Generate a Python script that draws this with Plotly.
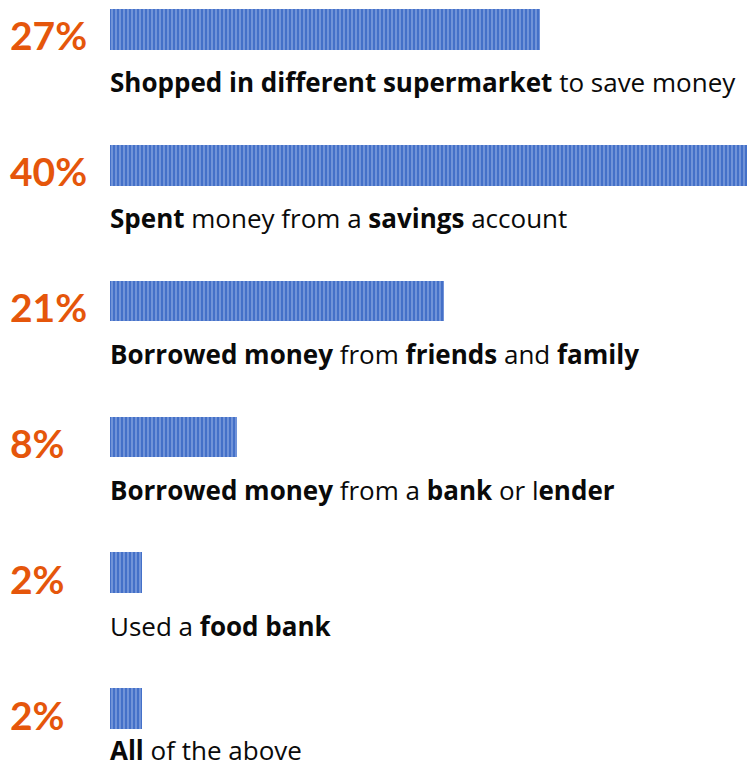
import plotly.graph_objects as go

# Survey results: share of respondents taking each action
values = [27, 40, 21, 8, 2, 2]
pct_labels = ["27%", "40%", "21%", "8%", "2%", "2%"]
descriptions = [
    "<b>Shopped in different supermarket</b> to save money",
    "<b>Spent</b> money from a <b>savings</b> account",
    "<b>Borrowed money</b> from <b>friends</b> and <b>family</b>",
    "<b>Borrowed money</b> from a <b>bank</b> or l<b>ender</b>",
    "Used a <b>food bank</b>",
    "<b>All</b> of the above",
]
positions = list(range(len(values)))

ORANGE = "#E5560B"
BLUE = "#4470C8"
STRIPE = "#B3C8F0"

fig = go.Figure()
fig.add_trace(go.Bar(
    x=values,
    y=positions,
    orientation="h",
    width=0.30,
    marker=dict(
        color=BLUE,
        line=dict(width=0),
        pattern=dict(shape="|", bgcolor=BLUE, fgcolor=STRIPE, size=4, solidity=0.4),
    ),
    hoverinfo="skip",
))

last = len(values) - 1
for i, (pct, desc) in enumerate(zip(pct_labels, descriptions)):
    fig.add_annotation(
        x=0, y=i, xref="paper", yref="y",
        text="<b>" + pct + "</b>", showarrow=False,
        xanchor="left", yanchor="middle", xshift=8, yshift=-6,
        font=dict(family="Lato", size=39, color=ORANGE, weight=900),
    )
    # the bottom row sits a little tighter so it stays on the page
    fig.add_annotation(
        x=0, y=i, xref="x", yref="y",
        text=desc, showarrow=False,
        xanchor="left", yanchor="middle",
        yshift=-41 if i == last else -53, xshift=-2,
        font=dict(family="Open Sans", size=26, color="#0a0a0a"),
    )

fig.update_layout(
    width=747, height=769,
    margin=dict(l=0, r=0, t=0, b=0),
    paper_bgcolor="white", plot_bgcolor="white",
    showlegend=False,
    bargap=0,
    xaxis=dict(domain=[110 / 747, 1], range=[0, 40], visible=False, fixedrange=True),
    yaxis=dict(range=[5.445, -0.217], visible=False, fixedrange=True),
)

fig.write_html("out.html")
